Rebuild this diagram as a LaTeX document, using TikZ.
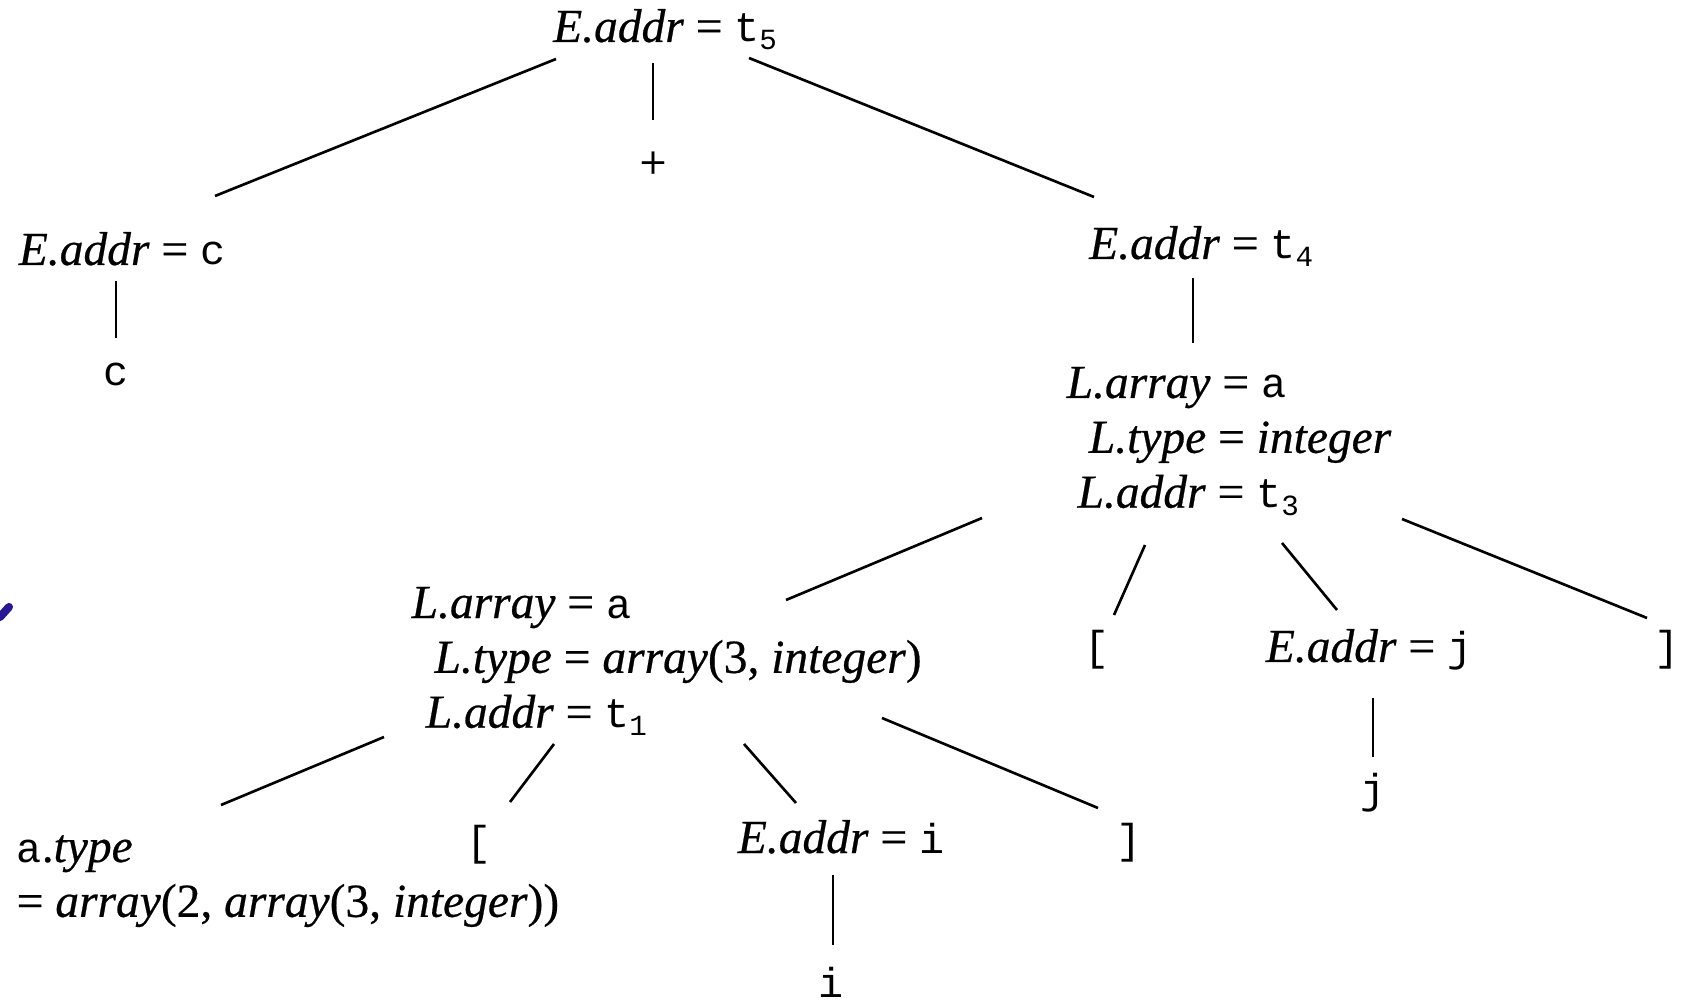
\documentclass[tikz,border=0pt]{standalone}
\usepackage{fontspec}
\setmainfont{Liberation Serif}[FakeBold=0.5]
\setmonofont[Scale=0.88]{Liberation Mono}
\definecolor{markblue}{RGB}{38,24,150}
\newcommand{\code}[1]{\texttt{#1}}

\begin{document}
\begin{tikzpicture}[x=0.01cm, y=-0.01cm,
  attr/.style={inner sep=0pt, anchor=base, font=\fontsize{13.5}{15.6}\selectfont},
  block/.style={attr, anchor=base west},
  branch/.style={line width=0.75pt}]
\useasboundingbox (0,0) rectangle (1683,1004);

% top of the tree
\node[attr] (root) at (666,42) {\textit{E.addr} = \code{t\textsubscript{5}}};
\node[attr, anchor=center] (plus) at (653,165) {+};
\node[attr] (ec) at (122,265) {\textit{E.addr} = \code{c}};
\node[attr] (c) at (116,386) {\code{c}};
\node[attr] (et4) at (1202,259) {\textit{E.addr} = \code{t\textsubscript{4}}};

% L for a[i][j]
\node[block] (lr) at (1066,398) {\begin{tabular}[t]{@{}l@{}}
  \textit{L.array} = \code{a}\\
  \hspace*{6.3pt}\textit{L.type} = \textit{integer}\\
  \hspace*{3.1pt}\textit{L.addr} = \code{t\textsubscript{3}}
\end{tabular}};
\node[attr] (lbr) at (1097,660) {\code{[}};
\node[attr] (ej) at (1369,662) {\textit{E.addr} = \code{j}};
\node[attr] (rbr) at (1667,660) {\code{]}};
\node[attr] (j) at (1373,803) {\code{j}};

% L for a[i]
\node[block] (ll) at (411,618) {\begin{tabular}[t]{@{}l@{}}
  \textit{L.array} = \code{a}\\
  \hspace*{6.5pt}\textit{L.type} = \textit{array}(3, \textit{integer})\\
  \hspace*{4pt}\textit{L.addr} = \code{t\textsubscript{1}}
\end{tabular}};
\node[block] (atype) at (16,862) {\begin{tabular}[t]{@{}l@{}}
  \code{a}.\textit{type}\\
  = \textit{array}(2, \textit{array}(3, \textit{integer}))
\end{tabular}};
\node[attr] (lbrb) at (479,855) {\code{[}};
\node[attr] (ei) at (841,853) {\textit{E.addr} = \code{i}};
\node[attr] (rbrb) at (1129,853) {\code{]}};
\node[attr] (i) at (831,997) {\code{i}};

% branches
\draw[branch] ([shift={(-110,17)}]root.base) -- ([shift={(93,-69)}]ec.base);
\draw[branch] ([shift={(-13,21)}]root.base) -- ([shift={(0,-45)}]plus.center);
\draw[branch] ([shift={(83,16)}]root.base) -- ([shift={(-108,-62)}]et4.base);
\draw[branch] ([shift={(-6,16)}]ec.base) -- ([shift={(0,-48)}]c.base);
\draw[branch] ([shift={(-9,19)}]et4.base) -- ([shift={(127,-55)}]lr.base west);

\draw[branch] ([shift={(-84,120)}]lr.base west) -- ([shift={(375,-18)}]ll.base west);
\draw[branch] ([shift={(79,147)}]lr.base west) -- ([shift={(17,-45)}]lbr.base);
\draw[branch] ([shift={(216,145)}]lr.base west) -- ([shift={(-32,-52)}]ej.base);
\draw[branch] ([shift={(336,121)}]lr.base west) -- ([shift={(-20,-42)}]rbr.base);
\draw[branch] ([shift={(4,36)}]ej.base) -- ([shift={(0,-46)}]j.base);

\draw[branch] ([shift={(-27,119)}]ll.base west) -- ([shift={(205,-57)}]atype.base west);
\draw[branch] ([shift={(143,126)}]ll.base west) -- ([shift={(31,-53)}]lbrb.base);
\draw[branch] ([shift={(333,126)}]ll.base west) -- ([shift={(-45,-50)}]ei.base);
\draw[branch] ([shift={(471,100)}]ll.base west) -- ([shift={(-31,-45)}]rbrb.base);
\draw[branch] ([shift={(-8,22)}]ei.base) -- ([shift={(2,-52)}]i.base);

% stray pen mark on the left edge
\draw[markblue, line width=2.3pt, line cap=round] (0,617) -- (9,607);
\end{tikzpicture}
\end{document}
